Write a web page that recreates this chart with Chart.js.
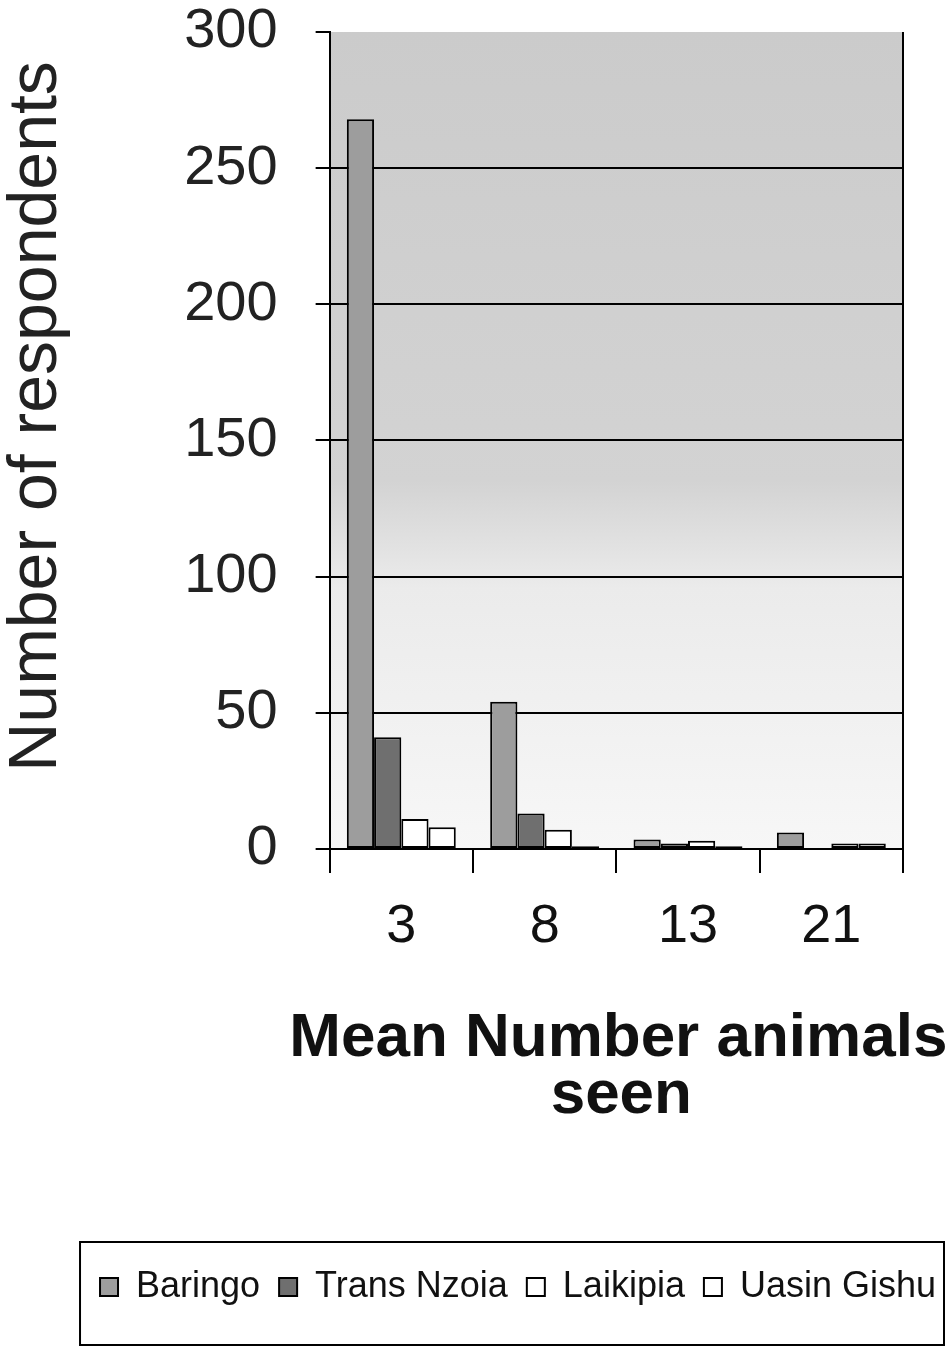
<!DOCTYPE html>
<html>
<head>
<meta charset="utf-8">
<script src="https://cdn.jsdelivr.net/npm/chart.js@4"></script>
<style>
  html, body { margin: 0; padding: 0; background: #ffffff; }
  #wrap { width: 951px; height: 1352px; }
</style>
</head>
<body>
<div id="wrap"><canvas id="bar-chartcanvas" width="951" height="1352"></canvas></div>
<script>
var categories = ["3", "8", "13", "21"];
var baringo = [268, 54, 3.5, 6];
var transNzoia = [41, 13, 2, 0];
var laikipia = [11, 7, 3, 2];
var uasinGishu = [8, 1, 1, 2];
var yTicks = [0, 50, 100, 150, 200, 250, 300];
var xTitle = ["Mean Number animals", "seen"];
var yTitle = "Number of respondents";

var FONT = "Arial, 'Liberation Sans', sans-serif";

// grey scanned-looking plot background, right frame line, short y ticks,
// axis titles placed like the scan, legend box
var plotBack = {
	id: "plotBack",
	afterLayout: function(chart) {
		// legend in the reference sits further right than the plot does
		var lg = chart.legend, dx = 52;
		lg.left += dx;
		lg.right += dx;
		(lg.legendHitBoxes || []).forEach(function(h) { h.left += dx; });
	},
	beforeDraw: function(chart) {
		var a = chart.chartArea, c = chart.ctx;
		var g = c.createLinearGradient(0, a.top, 0, a.bottom);
		g.addColorStop(0, "#cbcbcb");
		g.addColorStop(0.55, "#d3d3d3");
		g.addColorStop(0.68, "#ebebeb");
		g.addColorStop(1, "#f7f7f7");
		c.save();
		c.fillStyle = g;
		c.fillRect(a.left, a.top, a.right - a.left, a.bottom - a.top);
		c.restore();
	},
	afterDraw: function(chart) {
		var a = chart.chartArea, c = chart.ctx, y = chart.scales.y, x = chart.scales.x;
		c.save();
		c.strokeStyle = "#000";
		c.lineWidth = 2;
		c.beginPath();
		c.moveTo(a.right, a.top);
		c.lineTo(a.right, a.bottom);
		y.ticks.forEach(function(t) {
			var py = Math.round(y.getPixelForValue(t.value));
			c.moveTo(a.left - 14, py);
			c.lineTo(a.left, py);
		});
		c.stroke();

		c.fillStyle = "#111";
		c.font = "bold 62px " + FONT;
		c.textAlign = "center";
		c.textBaseline = "alphabetic";
		var cx = (a.left + a.right) / 2 + 2;
		c.fillText(xTitle[0], cx, x.top + 207);
		c.fillText(xTitle[1], cx + 3, x.top + 264);

		c.save();
		c.fillStyle = "#222";
		c.font = "68px " + FONT;
		c.textBaseline = "middle";
		c.translate(y.left + 37, (a.top + a.bottom) / 2 - 24);
		c.rotate(-Math.PI / 2);
		c.fillText(yTitle, 0, 0);
		c.restore();

		var lg = chart.legend, hb = lg.legendHitBoxes;
		if (hb && hb.length) {
			var l = hb[0].left - 20, r = hb[hb.length - 1].left + hb[hb.length - 1].width + 8;
			c.strokeRect(l, lg.top - 8, r - l, lg.bottom - lg.top + 38);
		}
		c.restore();
	}
};

var ctx = document.getElementById("bar-chartcanvas");

var data = {
	labels: categories,
	datasets: [
		{ label: "Baringo", data: baringo, backgroundColor: "#9d9d9d" },
		{ label: "Trans Nzoia", data: transNzoia, backgroundColor: "#6f6f6f" },
		{ label: "Laikipia", data: laikipia, backgroundColor: "#ffffff" },
		{ label: "Uasin Gishu", data: uasinGishu, backgroundColor: "#ffffff" }
	].map(function(d) {
		d.borderColor = "#000";
		d.borderWidth = 2;
		d.borderSkipped = false;
		d.categoryPercentage = 0.76;
		d.barPercentage = 1.0;
		return d;
	})
};

var options = {
	responsive: false,
	animation: false,
	layout: { padding: { top: 0, right: 48, bottom: 37, left: 0 } },
	plugins: {
		legend: {
			display: true,
			position: "bottom",
			align: "end",
			labels: {
				color: "#111",
				font: { family: FONT, size: 36 },
				boxWidth: 18,
				boxHeight: 18,
				padding: 19
			}
		},
		tooltip: { enabled: false }
	},
	scales: {
		x: {
			grid: {
				offset: true,
				drawOnChartArea: false,
				color: "#000",
				lineWidth: 2,
				tickLength: 24
			},
			border: { color: "#000", width: 2 },
			ticks: {
				color: "#111",
				font: { family: FONT, size: 54 },
				padding: 22
			},
			// space is kept here; the text itself is painted by the plugin
			// because Chart.js squeezes a title to the plot width
			title: {
				display: true,
				text: xTitle,
				color: "rgba(0,0,0,0)",
				font: { family: FONT, size: 62, weight: "bold", lineHeight: 0.97 },
				padding: { top: 24, bottom: 124 }
			}
		},
		y: {
			min: 0,
			max: 300,
			afterBuildTicks: function(axis) {
				axis.ticks = yTicks.map(function(v) { return { value: v }; });
			},
			grid: {
				color: function(c) { return c.tick && c.tick.value === 300 ? "rgba(0,0,0,0)" : "#000"; },
				tickColor: "rgba(0,0,0,0)",
				lineWidth: 2,
				tickLength: 48
			},
			border: { color: "#000", width: 2 },
			ticks: {
				color: "#222",
				font: { family: FONT, size: 56, lineHeight: 1.0 },
				padding: 4
			},
			title: {
				display: true,
				text: yTitle,
				color: "rgba(0,0,0,0)",
				font: { family: FONT, size: 66 },
				padding: { top: 0, bottom: 101 }
			}
		}
	}
};

var chart = new Chart(ctx, {
	type: "bar",
	data: data,
	options: options,
	plugins: [plotBack]
});
</script>
</body>
</html>
